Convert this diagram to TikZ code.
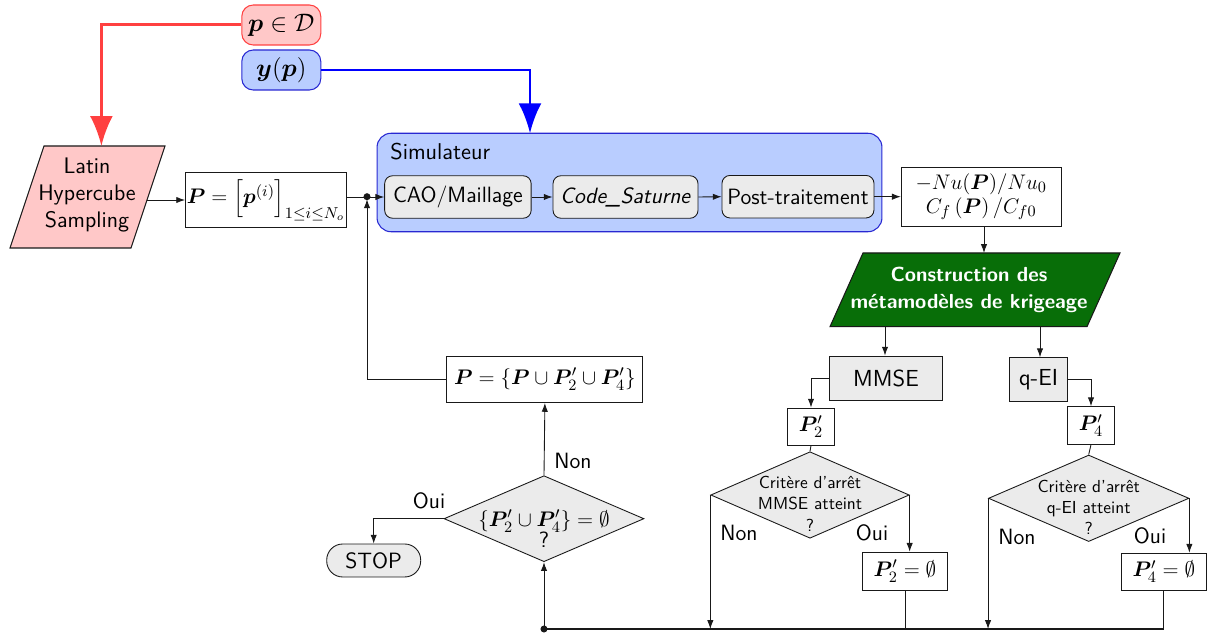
\documentclass[tikz,border=0pt]{standalone}
\usepackage{amsmath,bm}
\usepackage{fontspec}
\usetikzlibrary{shapes.geometric,arrows.meta,calc}
\definecolor{redfill}{RGB}{255,200,200}
\definecolor{redline}{RGB}{255,64,64}
\definecolor{bluefill}{RGB}{185,205,255}
\definecolor{blueline}{RGB}{0,0,255}
\definecolor{simborder}{RGB}{40,40,210}
\definecolor{greenfill}{RGB}{8,110,8}
\definecolor{grayfill}{RGB}{235,235,235}
\definecolor{linec}{RGB}{25,25,25}
\tikzset{
  box/.style={draw=linec, line width=0.5pt, inner sep=0pt, align=center},
  procbox/.style={box, fill=grayfill, rounded corners=4.5pt},
  inbox/.style={box, rounded corners=6.5pt, line width=0.6pt, font=\fontsize{13.4}{16}\selectfont},
  dia/.style={shape=diamond, draw=linec, line width=0.5pt, fill=grayfill, inner sep=0pt},
  parashape/.style={draw=linec, line width=0.6pt},
  conn/.style={draw=linec, line width=0.5pt},
  arr/.style={conn, -{Latex[length=5pt,width=3.6pt]}},
  big/.style={line width=1.7pt, -{Latex[length=17pt,width=13pt]}},
  lab/.style={inner sep=0pt},
  small/.style={font=\sffamily\fontsize{9.9}{12.2}\selectfont},
  dotst/.style={circle, fill=linec, inner sep=0pt, minimum size=4pt}
}
\begin{document}
\begin{tikzpicture}[x=0.02cm,y=-0.02cm, font=\sffamily\fontsize{12.6}{15}\selectfont]
\useasboundingbox (0,0) rectangle (1208,634);

% inputs
\node[inbox, draw=redline, fill=redfill, minimum width=1.58cm, minimum height=0.8cm] (pD) at (281.3,25) {$\bm{p}\in\mathcal{D}$};
\node[inbox, draw=simborder, fill=bluefill, minimum width=1.58cm, minimum height=0.8cm] (yp) at (281.3,70) {$\bm{y}(\bm{p})$};

% LHS parallelogram
\path[parashape, fill=redfill] (10,248) -- (44,146) -- (165,146) -- (131,248) -- cycle;
\node[align=center, inner sep=0pt, font=\sffamily\fontsize{12.8}{15.5}\selectfont] (lhs) at (87,195) {Latin\\Hypercube\\Sampling};
\coordinate (lhsin) at (101.4,146);
\coordinate (lhsout) at (147,200);

\node[box, minimum width=3.22cm, minimum height=1.1cm] (Pbox) at (266,200.2) {$\bm{P}=\left[\bm{p}^{(i)}\right]_{1\leq i\leq N_o}$};

% simulator
\node[draw=simborder, line width=0.6pt, fill=bluefill, rounded corners=8pt, minimum width=10.1cm, minimum height=1.97cm, inner sep=0pt] (sim) at (629.5,182.5) {};
\coordinate (simin) at (530,133.3);
\node[lab, anchor=west, font=\sffamily\fontsize{13}{15}\selectfont] (simlab) at (390,152) {Simulateur};
\node[procbox, minimum width=2.93cm, minimum height=0.85cm] (cao) at (457.9,197) {CAO/Maillage};
\node[procbox, minimum width=2.9cm, minimum height=0.85cm] (cs) at (625.5,197) {\textit{Code\_Saturne}};
\node[procbox, minimum width=3.04cm, minimum height=0.85cm] (post) at (798,196.7) {Post-traitement};

\node[box, minimum width=3.2cm, minimum height=1.17cm, font=\fontsize{12.6}{13.5}\selectfont] (out) at (981.2,196.9) {$-Nu(\bm{P})/Nu_0$\\$C_f\left(\bm{P}\right)/C_{f0}$};
\coordinate (outdown) at (984,226.3);

% green parallelogram
\path[parashape, fill=greenfill] (830,326.7) -- (863,253) -- (1120,253) -- (1087,326.7) -- cycle;
\node[align=center, inner sep=0pt, text=white, font=\sffamily\bfseries\fontsize{11.6}{15}\selectfont] (green) at (969,290) {Construction des\\métamodèles de krigeage};
\coordinate (gtop) at (984,253);
\coordinate (gm) at (885,326.7);
\coordinate (gq) at (1040,326.7);

\node[box, fill=grayfill, minimum width=2.27cm, minimum height=0.88cm, font=\sffamily\fontsize{13.2}{15}\selectfont] (mmse) at (886,378) {MMSE};
\node[box, fill=grayfill, minimum width=1.17cm, minimum height=0.88cm, font=\sffamily\fontsize{13.2}{15}\selectfont] (qei) at (1038.5,379.7) {q-EI};

\node[box, minimum width=0.93cm, minimum height=0.74cm] (p2) at (811,426.5) {$\bm{P}_2'$};
\node[box, minimum width=0.93cm, minimum height=0.75cm] (p4) at (1091,425.4) {$\bm{P}_4'$};

\node[dia, minimum width=3.97cm, minimum height=1.73cm,
      label={[small, align=center, yshift=-0.17cm]center:{Critère d'arrêt\\MMSE atteint\\?}}] (d1) at (810,495) {};
\node[dia, minimum width=4.01cm, minimum height=1.73cm,
      label={[small, align=center, yshift=-0.18cm]center:{Critère d'arrêt\\q-EI atteint\\?}}] (d2) at (1088.7,498.3) {};

\node[box, minimum width=1.71cm, minimum height=0.76cm] (p2e) at (905,571.2) {$\bm{P}_2'=\emptyset$};
\node[box, minimum width=1.71cm, minimum height=0.74cm] (p4e) at (1163.9,571.7) {$\bm{P}_4'=\emptyset$};

\node[box, minimum width=3.92cm, minimum height=0.93cm] (Pn) at (544.9,379.3) {$\bm{P}=\{\bm{P}\cup\bm{P}_2'\cup\bm{P}_4'\}$};

\node[dia, minimum width=4cm, minimum height=1.72cm,
      label={[align=center, yshift=-0.2cm]center:{$\{\bm{P}_2'\cup\bm{P}_4'\}=\emptyset$\\[-3pt]?}}] (d0) at (544,518.7) {};

\node[procbox, rounded corners=0.32cm, minimum width=1.88cm, minimum height=0.66cm] (stop) at (373.7,560.5) {STOP};

% dots
\node[dotst] (dot1) at (367,196.7) {};
\node[dotst] (dot2) at (544,629) {};

% labels
\node[lab] (non0) at (573,461) {Non};
\node[lab] (oui0) at (429,501) {Oui};
\node[lab] (non1) at (739,533) {Non};
\node[lab] (oui1) at (872,533) {Oui};
\node[lab] (non2) at (1017,537) {Non};
\node[lab] (oui2) at (1150,536) {Oui};

% connectors
\draw[big, redline] (pD.west) -| (lhsin);
\draw[big, blueline] (yp.east) -| (simin);
\draw[arr] (lhsout) -- (lhsout -| Pbox.west);
\draw[arr] (Pbox.east |- cao.west) -- (cao.west);
\draw[arr] (cao.east) -- (cs.west);
\draw[arr] (cs.east) -- (post.west);
\draw[arr] (post.east) -- (post.east -| out.west);
\draw[arr] (outdown) -- (gtop);
\draw[arr] (gm) -- (gm |- mmse.north);
\draw[arr] (gq) -- (gq |- qei.north);
\draw[arr] (mmse.west) -| (p2.north);
\draw[arr] (qei.east) -| (p4.north);
\draw[conn] (p2.south) -- (d1.north);
\draw[conn] (p4.south) -- (d2.north);
\draw[arr] (d1.east) -- (d1.east |- p2e.north);
\draw[arr] (d2.east) -- (d2.east |- p4e.north);
\draw[arr] (d1.west) -- (d1.west |- dot2);
\draw[arr] (d2.west) -- (d2.west |- dot2);
\draw[conn] (p2e.south) -- (p2e.south |- dot2);
\draw[conn] (p4e.south) -- (p4e.south |- dot2);
\draw[conn, line width=0.9pt] (dot2.center) -- (p4e.south |- dot2);
\draw[arr] (dot2.center) -- (d0.south);
\draw[arr] (d0.north) -- (Pn.south);
\draw[arr] (d0.west) -| (stop.north);
\draw[arr, shorten >=1.5pt] (Pn.west) -| (dot1.center);
\end{tikzpicture}
\end{document}
